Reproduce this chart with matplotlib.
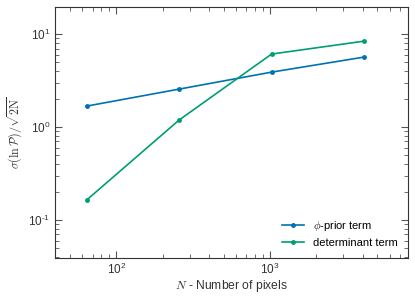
import numpy as np
import matplotlib.pyplot as plt
from matplotlib.ticker import FuncFormatter

plt.rcParams['font.family'] = ['Liberation Sans', 'DejaVu Sans']
plt.rcParams['mathtext.fontset'] = 'custom'
plt.rcParams['mathtext.rm'] = 'Liberation Sans'
plt.rcParams['mathtext.it'] = 'Liberation Sans:italic'

n_pix = [64, 256, 1024, 4096]
prior_term = [1.68, 2.56, 3.9, 5.66]
det_term = [0.164, 1.19, 6.1, 8.4]

def pow10(v, pos):
    e = int(round(np.log10(v)))
    if e < 0:
        return r'$\mathdefault{10^{\text{-}%d}}$' % (-e)
    return r'$\mathdefault{10^{%d}}$' % e

fig, ax = plt.subplots(figsize=(4.15, 2.97), dpi=100)
ax.plot(n_pix, prior_term, '.-', color='#0072B2', lw=1.2, ms=5, label=r'$\phi$-prior term')
ax.plot(n_pix, det_term, '.-', color='#009E73', lw=1.2, ms=5, label='determinant term')
ax.set_xscale('log')
ax.set_yscale('log')
ax.set_xlim(40, 7900)
ax.set_ylim(0.039, 19.5)
ax.xaxis.set_major_formatter(FuncFormatter(pow10))
ax.yaxis.set_major_formatter(FuncFormatter(pow10))
ax.set_xlabel(r'$N$ - Number of pixels', fontsize=8.7, color='#333333', math_fontfamily='cm',
              labelpad=1)
ax.set_ylabel(r'$\sigma(\ln\mathcal{P})/\sqrt{2\mathrm{N}}$', fontsize=8.7, color='#333333',
              math_fontfamily='cm', labelpad=2)
ax.tick_params(which='both', direction='in', top=True, right=True, colors='#555555', labelsize=8.5)
ax.tick_params(which='major', length=5, labelcolor='#333333')
ax.tick_params(which='minor', length=3)
ax.tick_params(axis='x', which='major', pad=2.5)
for s in ax.spines.values():
    s.set_color('#333333')
leg = ax.legend(loc='lower right', frameon=False, fontsize=8)
leg.get_texts()[0].set_math_fontfamily('cm')
fig.subplots_adjust(left=0.133, right=0.983, top=0.976, bottom=0.131)
fig.savefig('out.png')
